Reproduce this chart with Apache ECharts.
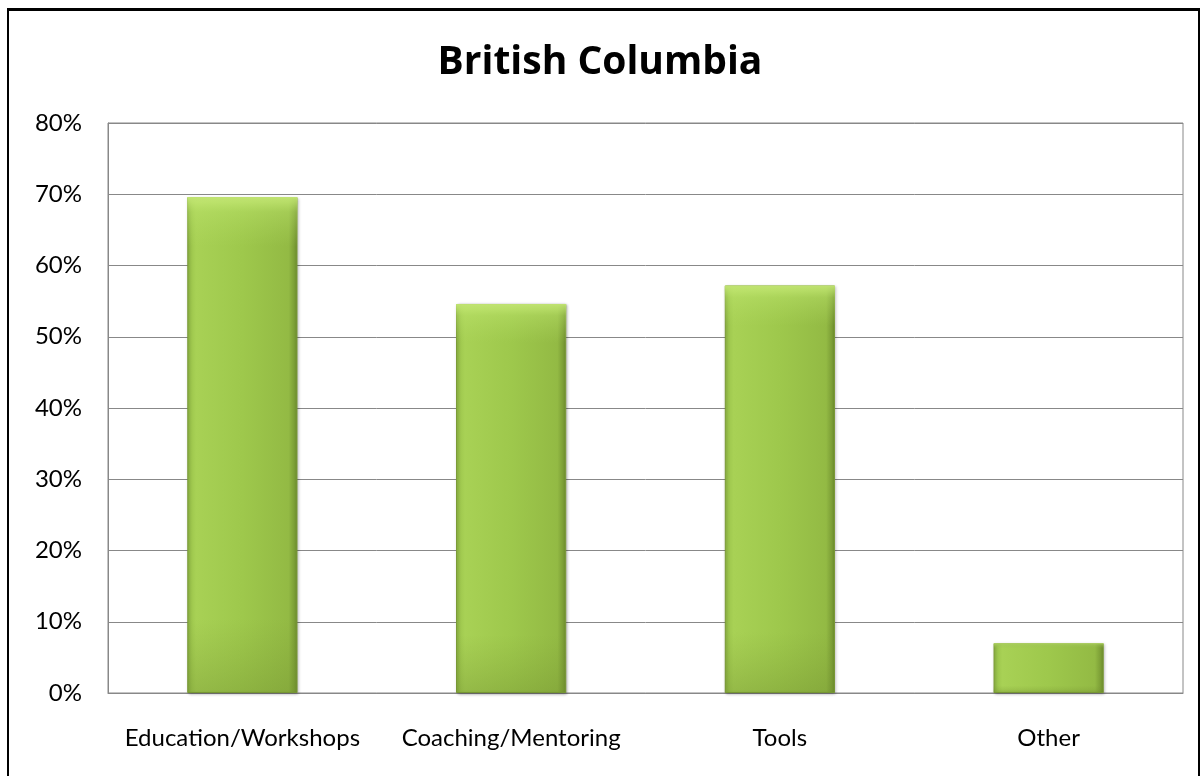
<!DOCTYPE html>
<html>
<head>
<meta charset="utf-8">
<script src="https://cdn.jsdelivr.net/npm/echarts@6/dist/echarts.min.js"></script>
<style>
  html, body { margin: 0; padding: 0; background: #fff; }
  #chart { width: 1200px; height: 776px; }
  #frame { position: absolute; left: 7px; top: 8px; width: 1189px; height: 780px;
           border-left: 2px solid #000; border-top: 3px solid #000; border-right: 2px solid #000; pointer-events: none; }
</style>
</head>
<body>
<div id="chart"></div>
<div id="frame"></div>
<script>
// Share of respondents by type of support
const categories = ['Education/Workshops', 'Coaching/Mentoring', 'Tools', 'Other'];
const values = [69.6, 54.6, 57.2, 7.0];
const yTicks = [0, 10, 20, 30, 40, 50, 60, 70, 80];

const chart = echarts.init(document.getElementById('chart'));
const labelFont = 'Lato, "Open Sans", sans-serif';
const titleFont = '"Open Sans", Lato, sans-serif';

chart.setOption({
  animation: false,
  title: {
    text: 'British Columbia',
    left: 'center',
    top: 38,
    textStyle: { fontFamily: titleFont, fontSize: 39, fontWeight: 'bold', color: '#000' }
  },
  grid: { left: 108, right: 17, top: 123, bottom: 83, show: true, borderColor: '#888', borderWidth: 1 },
  xAxis: {
    type: 'category',
    data: categories,
    axisTick: { show: false },
    axisLine: { lineStyle: { color: '#888' } },
    axisLabel: { interval: 0, fontFamily: labelFont, fontSize: 24, color: '#000', margin: 33 }
  },
  yAxis: {
    type: 'value',
    min: yTicks[0],
    max: yTicks[yTicks.length - 1],
    interval: 10,
    axisLine: { show: true, lineStyle: { color: '#888' } },
    axisTick: { show: false },
    splitLine: { lineStyle: { color: '#888', width: 1 } },
    axisLabel: { fontFamily: labelFont, fontSize: 24, color: '#000', margin: 26, formatter: v => v + '%' }
  },
  series: [
    {
      type: 'bar',
      data: values,
      barWidth: '41%',
      itemStyle: {
        color: new echarts.graphic.LinearGradient(0, 0, 1, 0, [
          { offset: 0, color: '#97c048' },
          { offset: 0.08, color: '#a8d155' },
          { offset: 0.5, color: '#9ec84c' },
          { offset: 0.92, color: '#93ba44' },
          { offset: 1, color: '#6f8f2e' }
        ]),
        borderColor: '#7a9a36',
        borderWidth: 1,
        shadowColor: 'rgba(0,0,0,0.3)',
        shadowBlur: 3,
        shadowOffsetX: 1,
        shadowOffsetY: 1
      }
    },
    {
      // bevel highlight along the top edge of each bar
      type: 'bar',
      data: values,
      barWidth: '41%',
      barGap: '-100%',
      silent: true,
      itemStyle: {
        color: new echarts.graphic.LinearGradient(0, 0, 0, 1, [
          { offset: 0, color: 'rgba(200,235,120,0.9)' },
          { offset: 0.03, color: 'rgba(190,230,110,0.4)' },
          { offset: 0.1, color: 'rgba(180,220,100,0)' },
          { offset: 0.85, color: 'rgba(120,150,50,0)' },
          { offset: 1, color: 'rgba(110,140,45,0.35)' }
        ])
      }
    }
  ]
});
</script>
</body>
</html>
